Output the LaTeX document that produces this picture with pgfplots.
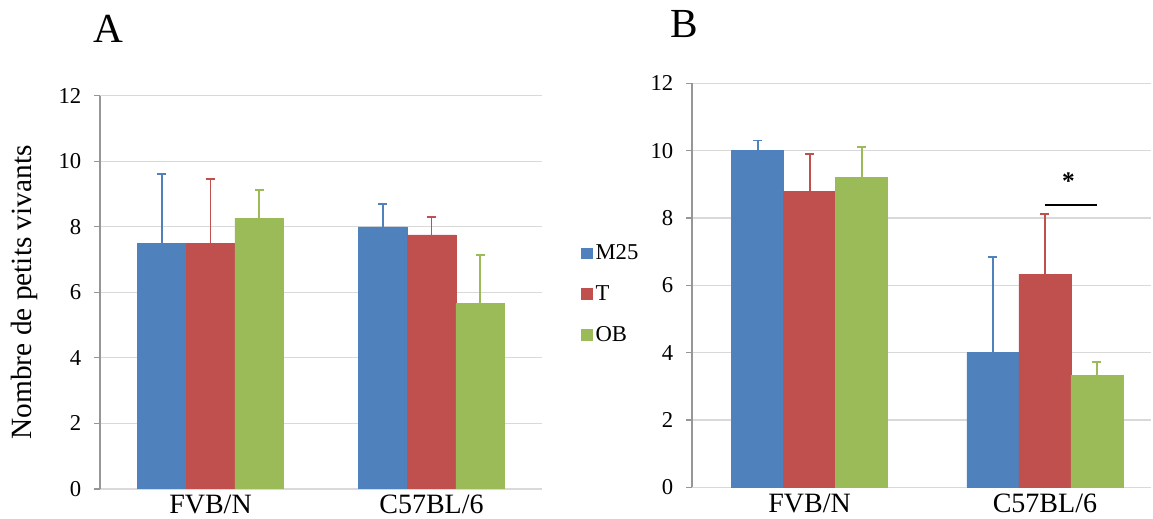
\documentclass[border=0pt]{standalone}
\usepackage{pgfplots}
\usepackage{pgfplotstable}
\pgfplotsset{compat=1.18}
\usepackage{fontspec}
\setmainfont{Liberation Serif}
\definecolor{cM}{RGB}{79,129,189}
\definecolor{cT}{RGB}{192,80,77}
\definecolor{cO}{RGB}{155,187,89}
\definecolor{gridc}{RGB}{217,217,217}
\definecolor{axc}{RGB}{150,150,150}

\pgfplotstableread{
cat M25 M25e T Te OB OBe
1 7.5 2.12 7.5 1.97 8.25 0.88
2 8.0 0.70 7.75 0.56 5.67 1.47
}\dataA
\pgfplotstableread{
cat M25 M25e T Te OB OBe
1 10.0 0.30 8.8 1.10 9.2 0.90
2 4.0 2.83 6.33 1.79 3.33 0.40
}\dataB

\pgfplotsset{
  sqleg/.style={legend image code/.code={\fill[##1,draw=none] (-2pt,-4.4pt) rectangle (6.8pt,4.4pt);}},
  eb/.style={fill=#1, draw=#1,
    error bars/error bar style={line width=1.4pt, draw=#1},
    error bars/error mark options={rotate=90, mark size=3.4pt, line width=1.4pt, draw=#1}},
  mybar/.style={
    scale only axis, ybar, bar width=0.221,
    ymin=0, ymax=12, ytick={0,2,...,12},
    xtick={1,2}, xticklabels={FVB/N, C57BL/6},
    xmin=0.5,
    axis y line*=left, axis x line*=bottom,
    ymajorgrids, grid style={gridc, line width=0.9pt},
    y axis line style={axc, line width=1pt, -},
    x axis line style={gridc, line width=1pt, -},
    tick align=outside,
    major tick length=4.5pt,
    ytick style={axc, line width=0.9pt},
    xtick style={draw=none},
    yticklabel style={font=\fontsize{17}{17}\selectfont, /pgf/number format/assume math mode=true, xshift=-6pt},
    xticklabel style={font=\fontsize{21}{21}\selectfont, inner sep=0pt, yshift=0pt},
    error bars/y dir=plus, error bars/y explicit,
  },
}

\begin{document}
\begin{tikzpicture}
\useasboundingbox (0,0) rectangle (864.75pt,388.5pt);
\node[font=\fontsize{31}{31}\selectfont] at (81pt,366.75pt) {A};
\node[font=\fontsize{31}{31}\selectfont] at (513pt,370.7pt) {B};

\begin{axis}[mybar, at={(75pt,21.75pt)}, anchor=south west,
  width=331.5pt, height=295pt, xmax=2.5,
  ylabel={Nombre de petits vivants},
  ylabel style={at={(axis description cs:-0.17,0.5)}, anchor=center, rotate=0, font=\fontsize{22}{22}\selectfont},
  legend style={at={(axis description cs:1.079,0.495)}, anchor=west, draw=none, fill=none,
    font=\fontsize{17}{17}\selectfont, row sep=14pt, legend cell align=left},
]
\addplot[sqleg, eb=cM, bar shift=-0.221] table[x=cat, y=M25, y error=M25e] {\dataA};
\addplot[sqleg, eb=cT, bar shift=0] table[x=cat, y=T, y error=Te] {\dataA};
\addplot[sqleg, eb=cO, bar shift=0.221] table[x=cat, y=OB, y error=OBe] {\dataA};
\legend{M25, T, OB}
\end{axis}

\begin{axis}[mybar, at={(519pt,23pt)}, anchor=south west,
  width=344.1pt, height=303pt, xmax=2.45,
]
\addplot[eb=cM, bar shift=-0.221] table[x=cat, y=M25, y error=M25e] {\dataB};
\addplot[eb=cT, bar shift=0] table[x=cat, y=T, y error=Te] {\dataB};
\addplot[eb=cO, bar shift=0.221] table[x=cat, y=OB, y error=OBe] {\dataB};
\draw[black, line width=1.5pt] (axis cs:2.0,8.4) -- (axis cs:2.222,8.4);
\node[font=\fontsize{19}{19}\selectfont\bfseries] at (axis cs:2.10,9.1) {*};
\end{axis}
\end{tikzpicture}
\end{document}
